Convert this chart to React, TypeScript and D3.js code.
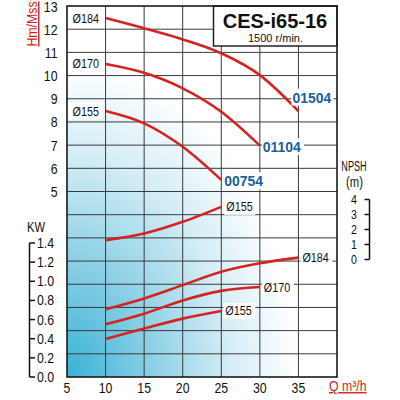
import * as d3 from "d3";

// flow rates (m3/h) at which values were read
const flowQ = [10, 15, 20, 25, 30, 35];

// head curves (m)
const head184 = [12.48, 12.04, 11.56, 10.96, 10.02, 8.47];
const head170 = [10.5, 10.12, 9.45, 8.44, 6.98];
const head155 = [8.47, 7.94, 6.93, 5.5];

// NPSH curve (m)
const npsh155 = [1.29, 1.73, 2.51, 3.51];

// power curves (kW)
const kw184 = [0.707, 0.821, 0.96, 1.1, 1.188, 1.247];
const kw170 = [0.551, 0.662, 0.8, 0.9, 0.94];
const kw155 = [0.397, 0.506, 0.61, 0.69];

const xTicks = [5, 10, 15, 20, 25, 30, 35];
const headTicks = [5, 6, 7, 8, 9, 10, 11, 12, 13];
const kwTicks = [0, 0.2, 0.4, 0.6, 0.8, 1.0, 1.2, 1.4];
const npshTicks = [0, 1, 2, 3, 4];

const headNames = ["Ø184", "Ø170", "Ø155"];
const modelNames = ["01504", "01104", "00754"];
const kwNames = ["Ø184", "Ø170", "Ø155"];

const RED = "#d42320";
const BLUE = "#17609f";
const GRID = "#3a3a3a";
const FONT = "'Liberation Sans', Arial, sans-serif";

const left = 67;
const right = 337;
const top = 6;
const bottom = 377;

const x = d3.scaleLinear().domain([5, 40]).range([left, right]);
const yHead = d3.scaleLinear().domain([-3, 13]).range([bottom, top]);
const yKw = d3.scaleLinear().domain([0, 1.4]).range([bottom, 243]);
const yNpsh = d3.scaleLinear().domain([0, 4]).range([259.5, 199.5]);

type Pt = [number, number];

const makePath = (vals: number[], y: d3.ScaleLinear<number, number>) =>
  d3
    .line<Pt>()
    .x((d) => x(d[0]))
    .y((d) => y(d[1]))
    .curve(d3.curveMonotoneX)(vals.map((v, i) => [flowQ[i], v] as Pt)) || "";

const Txt = ({
  x: tx,
  y: ty,
  sx = 0.88,
  size = 14,
  anchor = "start",
  fill = "#111",
  weight = "normal",
  underline = false,
  rotate = 0,
  children,
}: {
  x: number;
  y: number;
  sx?: number;
  size?: number;
  anchor?: string;
  fill?: string;
  weight?: string;
  underline?: boolean;
  rotate?: number;
  children: React.ReactNode;
}) => (
  <text
    transform={`translate(${tx},${ty}) rotate(${rotate}) scale(${sx},1)`}
    fontSize={size}
    fontFamily={FONT}
    textAnchor={anchor as any}
    fill={fill}
    fontWeight={weight}
    textDecoration={underline ? "underline" : undefined}
  >
    {children}
  </text>
);

export default function App() {
  const heads = [head184, head170, head155];
  const kws = [kw184, kw170, kw155];
  const headGrid = d3.range(-2, 13);

  return (
    <svg
      width={400}
      height={400}
      style={{ position: "absolute", left: 0, top: 0, background: "#fff" }}
    >
      <defs>
        <radialGradient id="bg" cx="0" cy="1" r="1" fx="0" fy="1">
          <stop offset="0" stopColor="#38b2d6" />
          <stop offset="0.3" stopColor="#88cee5" />
          <stop offset="0.6" stopColor="#d4edf6" />
          <stop offset="0.85" stopColor="#ffffff" />
        </radialGradient>
      </defs>

      <rect x={left} y={top} width={right - left} height={bottom - top} fill="url(#bg)" />

      {/* grid */}
      {xTicks.slice(1).map((q) => (
        <line key={q} x1={x(q)} x2={x(q)} y1={top} y2={bottom} stroke={GRID} strokeWidth={1} />
      ))}
      {headGrid.map((h) => (
        <line key={h} x1={left} x2={right} y1={yHead(h)} y2={yHead(h)} stroke={GRID} strokeWidth={1} />
      ))}

      {/* title box */}
      <rect x={213.5} y={top} width={right - 213.5} height={40} fill="#fff" stroke="#222" strokeWidth={1.5} />
      <Txt x={275} y={27.5} size={20} sx={1} weight="bold" anchor="middle">
        CES-i65-16
      </Txt>
      <Txt x={275.5} y={42} size={11} sx={1} anchor="middle">
        1500 r/min.
      </Txt>

      {/* head curves */}
      {heads.map((vals, i) => {
        const n = vals.length - 1;
        const ex = x(flowQ[n]);
        const ey = yHead(vals[n]);
        const lx = i === 0 ? ex - 6 : ex + 3;
        const ly = i === 0 ? ey - 14 : ey + 1;
        return (
          <g key={i}>
            <path d={makePath(vals, yHead)} fill="none" stroke={RED} strokeWidth={2.6} />
            <rect x={68} y={yHead(vals[0]) - 8.5} width={34} height={17} fill="#fff" />
            <Txt x={72.5} y={yHead(vals[0]) + 4.5} size={12} sx={0.9}>
              {headNames[i]}
            </Txt>
            <rect x={lx - 1} y={ly - 8.5} width={42} height={17} fill="#fff" />
            <Txt x={lx} y={ly + 5.5} size={15} sx={0.93} weight="bold" fill={BLUE}>
              {modelNames[i]}
            </Txt>
          </g>
        );
      })}

      {/* NPSH curve */}
      <path d={makePath(npsh155, yNpsh)} fill="none" stroke={RED} strokeWidth={2.6} />
      <rect
        x={x(flowQ[npsh155.length - 1]) + 3}
        y={yNpsh(npsh155[npsh155.length - 1]) - 8}
        width={31}
        height={16}
        fill="#fff"
      />
      <Txt
        x={x(flowQ[npsh155.length - 1]) + 5}
        y={yNpsh(npsh155[npsh155.length - 1]) + 4.5}
        size={12}
        sx={0.9}
      >
        Ø155
      </Txt>

      {/* power curves */}
      {kws.map((vals, i) => {
        const n = vals.length - 1;
        const ex = x(flowQ[n]);
        const ey = yKw(vals[n]);
        return (
          <g key={i}>
            <path d={makePath(vals, yKw)} fill="none" stroke={RED} strokeWidth={2.6} />
            <rect x={ex + 2} y={ey - 8} width={32} height={16} fill="#fff" />
            <Txt x={ex + 4} y={ey + 4.5} size={12} sx={0.9}>
              {kwNames[i]}
            </Txt>
          </g>
        );
      })}

      {/* plot border */}
      <rect x={left} y={top} width={right - left} height={bottom - top} fill="none" stroke="#1a1a1a" strokeWidth={1.6} />

      {/* x ticks */}
      {xTicks.map((q) => (
        <Txt key={q} x={x(q)} y={392.5} anchor="middle">
          {q}
        </Txt>
      ))}
      <Txt x={329} y={391} fill={RED} underline>
        Q m³/h
      </Txt>

      {/* head ticks */}
      {headTicks.map((h) => (
        <Txt key={h} x={57.5} y={yHead(h) + 5.5} anchor="end">
          {h}
        </Txt>
      ))}
      <Txt x={37} y={24} rotate={-90} anchor="middle" fill={RED} underline>
        Hm/Mss
      </Txt>

      {/* kW axis */}
      <line x1={29.5} x2={29.5} y1={yKw(1.4)} y2={yKw(0)} stroke="#111" strokeWidth={1.5} />
      {kwTicks.map((k) => (
        <g key={k}>
          <line x1={29.5} x2={35} y1={yKw(k)} y2={yKw(k)} stroke="#111" strokeWidth={1.5} />
          <Txt x={37} y={yKw(k) + 5} >
            {d3.format(".1f")(k)}
          </Txt>
        </g>
      ))}
      <Txt x={27} y={232} sx={0.8}>
        KW
      </Txt>

      {/* NPSH axis */}
      <line x1={369.5} x2={369.5} y1={yNpsh(4)} y2={yNpsh(0)} stroke="#111" strokeWidth={1.5} />
      {npshTicks.map((n) => (
        <g key={n}>
          <line x1={364.5} x2={369.5} y1={yNpsh(n)} y2={yNpsh(n)} stroke="#111" strokeWidth={1.5} />
          <Txt x={357} y={yNpsh(n) + 4.5} size={12} anchor="end">
            {n}
          </Txt>
        </g>
      ))}
      <Txt x={354} y={171} sx={0.65} anchor="middle">
        NPSH
      </Txt>
      <Txt x={354.5} y={186.5} sx={0.8} anchor="middle">
        (m)
      </Txt>
    </svg>
  );
}
